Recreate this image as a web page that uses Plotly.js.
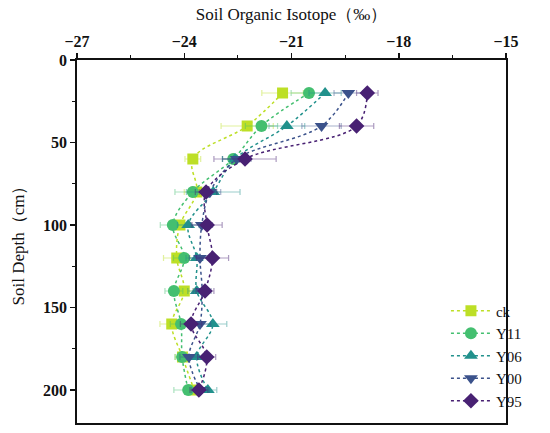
<!DOCTYPE html>
<html>
<head>
<meta charset="utf-8">
<script src="https://cdn.plot.ly/plotly-3.0.1.min.js"></script>
<style>html,body{margin:0;padding:0;background:#fff;}#chart{width:550px;height:433px;}</style>
</head>
<body>
<div id="chart"></div>
<script>
var depths = [20, 40, 60, 80, 100, 120, 140, 160, 180, 200];
var seriesNames = ['ck', 'Y11', 'Y06', 'Y00', 'Y95'];
var ck  = [-21.25, -22.24, -23.76, -23.65, -24.12, -24.21, -24.00, -24.35, -24.05, -23.72];
var y11 = [-20.51, -21.84, -22.63, -23.76, -24.32, -24.00, -24.29, -24.09, -24.06, -23.89];
var y06 = [-20.06, -21.13, -22.58, -23.19, -23.89, -23.65, -23.65, -23.20, -23.65, -23.34];
var y00 = [-19.41, -20.16, -22.53, -23.28, -23.51, -23.56, -23.50, -23.56, -23.87, -23.55];
var y95 = [-18.88, -19.18, -22.30, -23.39, -23.36, -23.21, -23.42, -23.81, -23.37, -23.59];
var ckErr  = [0.58, 0.73, 0.22, 0.35, 0.30, 0.37, 0.25, 0.33, 0.20, 0.25];
var y11Err = [0.50, 0.45, 0.30, 0.50, 0.35, 0.30, 0.25, 0.30, 0.20, 0.40];
var y06Err = [0.45, 0.50, 0.35, 0.75, 0.30, 0.30, 0.25, 0.39, 0.25, 0.25];
var y00Err = [0.40, 0.55, 0.40, 0.30, 0.30, 0.30, 0.25, 0.30, 0.25, 0.25];
var y95Err = [0.30, 0.48, 0.87, 0.30, 0.42, 0.45, 0.25, 0.30, 0.25, 0.25];

var values = [ck, y11, y06, y00, y95];
var errors = [ckErr, y11Err, y06Err, y00Err, y95Err];
var colors = ['#bddf26', '#44bf70', '#21918c', '#3b528b', '#482173'];
var errColors = ['rgba(189,223,38,0.45)', 'rgba(68,191,112,0.45)', 'rgba(33,145,140,0.45)', 'rgba(59,82,139,0.45)', 'rgba(72,33,115,0.45)'];
var symbols = ['square', 'circle', 'triangle-up', 'triangle-down', 'diamond'];
var sizes = [11, 12, 12, 12, 12];

var traces = seriesNames.map(function (n, i) {
  return {
    type: 'scatter',
    mode: 'lines+markers',
    name: n,
    x: values[i],
    y: depths,
    line: {color: colors[i], dash: 'dot', width: 1.5, shape: 'spline', smoothing: 1},
    marker: {symbol: symbols[i], size: sizes[i], color: colors[i]},
    error_x: {type: 'data', array: errors[i], visible: true, color: errColors[i], thickness: 1.2, width: 3}
  };
});

var serif = 'Liberation Serif';
var layout = {
  width: 550, height: 433,
  margin: {l: 77, r: 44, t: 60, b: 10},
  paper_bgcolor: '#fff', plot_bgcolor: '#fff',
  font: {family: serif, color: '#111'},
  showlegend: true,
  legend: {
    x: 0.86, y: 0.015, xanchor: 'left', yanchor: 'bottom',
    bgcolor: 'rgba(0,0,0,0)', borderwidth: 0,
    font: {family: serif, size: 15, color: '#111'},
    tracegroupgap: 0, itemwidth: 40, entrywidth: 0
  },
  xaxis: {
    side: 'top', range: [-27, -15], tickvals: [-27, -24, -21, -18, -15],
    ticks: 'outside', ticklen: 5, tickwidth: 1.5, tickcolor: '#111',
    minor: {tickvals: [-25.5, -22.5, -19.5, -16.5], ticks: 'outside', ticklen: 3, tickwidth: 1.2, tickcolor: '#111'},
    showline: true, mirror: true, linecolor: '#111', linewidth: 1.8,
    showgrid: false, zeroline: false,
    tickfont: {family: serif, size: 16, weight: 'bold', color: '#111'},
    title: {text: 'Soil Organic Isotope（‰）', font: {family: serif, size: 17, color: '#111'}, standoff: 8}
  },
  yaxis: {
    range: [220, 0], tickvals: [0, 50, 100, 150, 200],
    ticks: 'outside', ticklen: 5, tickwidth: 1.5, tickcolor: '#111',
    minor: {tickvals: [25, 75, 125, 175], ticks: 'outside', ticklen: 3, tickwidth: 1.2, tickcolor: '#111'},
    showline: true, mirror: true, linecolor: '#111', linewidth: 1.8,
    showgrid: false, zeroline: false,
    tickfont: {family: serif, size: 16, weight: 'bold', color: '#111'},
    title: {text: 'Soil Depth（cm）', font: {family: serif, size: 17, color: '#111'}, standoff: 14}
  }
};

Plotly.newPlot('chart', traces, layout, {displayModeBar: false, staticPlot: true});
</script>
</body>
</html>
